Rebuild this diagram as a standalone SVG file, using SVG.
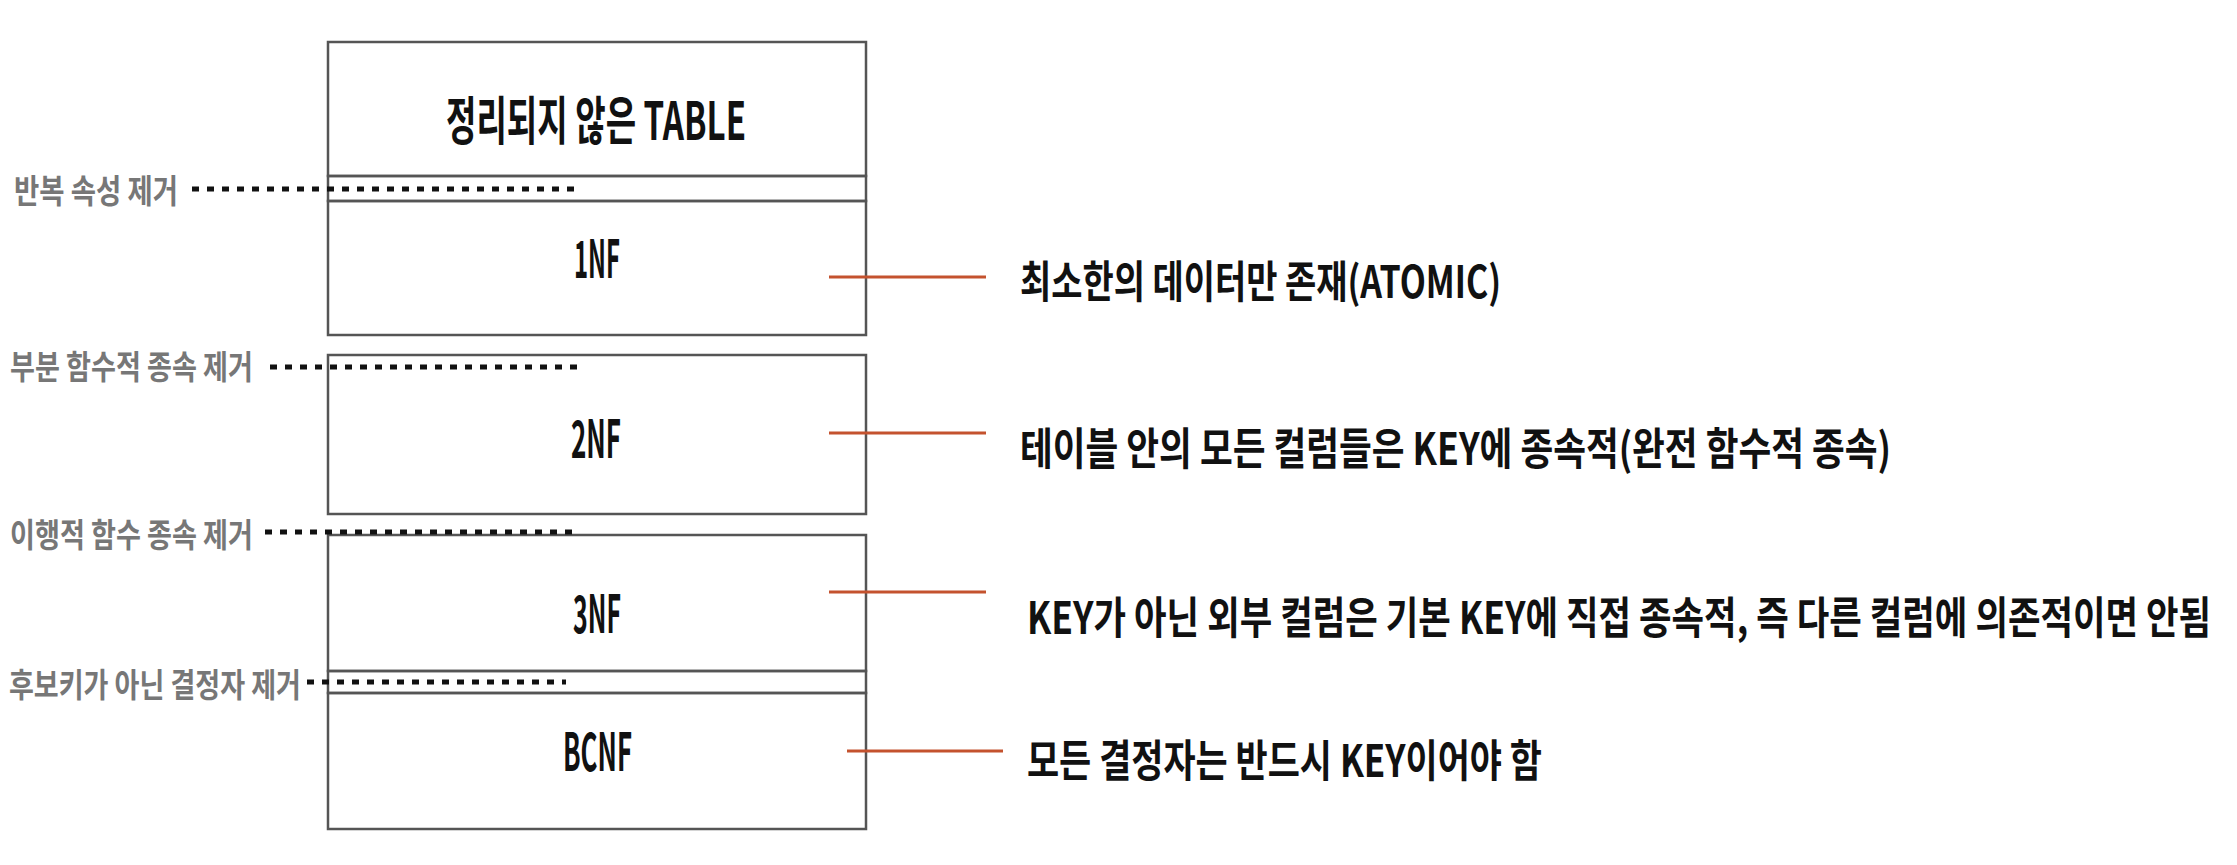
<svg xmlns="http://www.w3.org/2000/svg" width="2237" height="865" viewBox="0 0 2237 865">
<style>
.box{fill:none;stroke:#555;stroke-width:2.5}
.t{font-family:"Noto Sans CJK KR","Noto Sans",sans-serif;font-weight:700;fill:#111}
.lbl{font-family:"Noto Sans CJK KR","Noto Sans",sans-serif;font-weight:700;fill:#777;font-size:33px}
.dot{stroke:#111;stroke-width:5;stroke-dasharray:7 8;fill:none}
.red{stroke:#c4522e;stroke-width:3;fill:none}
</style>
<rect width="2237" height="865" fill="#fff"/>
<g id="unnormalized">
<rect class="box" x="328" y="42" width="538" height="134"/>
<text class="t" x="446" y="140" font-size="52" textLength="300" lengthAdjust="spacingAndGlyphs">정리되지 않은 TABLE</text>
</g>
<g id="strip1"><rect class="box" x="328" y="176" width="538" height="25"/></g>
<g id="nf1">
<rect class="box" x="328" y="201" width="538" height="134"/>
<text class="t" x="574" y="278" font-size="52" textLength="46" lengthAdjust="spacingAndGlyphs">1NF</text>
</g>
<g id="nf2">
<rect class="box" x="328" y="355" width="538" height="159"/>
<text class="t" x="571" y="458" font-size="52" textLength="50" lengthAdjust="spacingAndGlyphs">2NF</text>
</g>
<g id="nf3">
<rect class="box" x="328" y="535" width="538" height="136"/>
<text class="t" x="573" y="633" font-size="52" textLength="48" lengthAdjust="spacingAndGlyphs">3NF</text>
</g>
<g id="strip2"><rect class="box" x="328" y="671" width="538" height="22"/></g>
<g id="bcnf">
<rect class="box" x="328" y="693" width="538" height="136"/>
<text class="t" x="563" y="771" font-size="52" textLength="69" lengthAdjust="spacingAndGlyphs">BCNF</text>
</g>
<g id="labels">
<text class="lbl" x="14" y="203" textLength="164" lengthAdjust="spacingAndGlyphs">반복 속성 제거</text>
<text class="lbl" x="10" y="379" textLength="243" lengthAdjust="spacingAndGlyphs">부분 함수적 종속 제거</text>
<text class="lbl" x="10" y="547" textLength="243" lengthAdjust="spacingAndGlyphs">이행적 함수 종속 제거</text>
<text class="lbl" x="9" y="697" textLength="292" lengthAdjust="spacingAndGlyphs">후보키가 아닌 결정자 제거</text>
</g>
<g id="descriptions">
<text class="t" x="1020" y="298" font-size="44" textLength="481" lengthAdjust="spacingAndGlyphs">최소한의 데이터만 존재(ATOMIC)</text>
<text class="t" x="1020" y="465" font-size="44" textLength="871" lengthAdjust="spacingAndGlyphs">테이블 안의 모든 컬럼들은 KEY에 종속적(완전 함수적 종속)</text>
<text class="t" transform="translate(1027,634) scale(0.761,1)" x="0" y="0" font-size="44" textLength="1556" lengthAdjust="spacingAndGlyphs">KEY가 아닌 외부 컬럼은 기본 KEY에 직접 종속적, 즉 다른 컬럼에 의존적이면 안됨</text>
<text class="t" x="1027" y="777" font-size="44" textLength="515" lengthAdjust="spacingAndGlyphs">모든 결정자는 반드시 KEY이어야 함</text>
</g>
<g id="connectors">
<line class="dot" x1="192" y1="189" x2="580" y2="189"/>
<line class="dot" x1="270" y1="367" x2="577" y2="367"/>
<line class="dot" x1="265" y1="532" x2="580" y2="532"/>
<line class="dot" x1="307" y1="682" x2="566" y2="682"/>
<line class="red" x1="829" y1="277" x2="986" y2="277"/>
<line class="red" x1="829" y1="433" x2="986" y2="433"/>
<line class="red" x1="829" y1="592" x2="986" y2="592"/>
<line class="red" x1="847" y1="751" x2="1003" y2="751"/>
</g>
</svg>
